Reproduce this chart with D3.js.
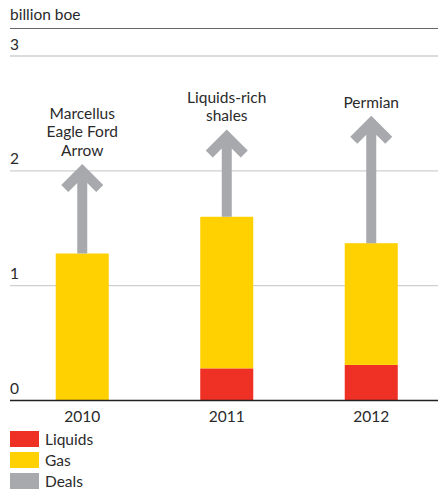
<!DOCTYPE html>
<html>
<head>
<meta charset="utf-8">
<script src="https://cdn.jsdelivr.net/npm/d3@7"></script>
<style>
  html, body { margin: 0; padding: 0; background: #fff; }
  svg { display: block; }
  text { font-family: Lato, "Noto Sans", sans-serif; font-weight: 400; fill: #2a2a2a; }
</style>
</head>
<body>
<svg id="chart" width="438" height="490"></svg>
<script>
const years = ["2010", "2011", "2012"];
const liquids = [0, 0.28, 0.31];
const gas = [1.28, 1.32, 1.06];
const deals = [0.78, 0.76, 1.11];
const dealLabels = [["Marcellus", "Eagle Ford", "Arrow"], ["Liquids-rich", "shales"], ["Permian"]];
const yTicks = [0, 1, 2, 3];
const legendItems = ["Liquids", "Gas", "Deals"];
const unitLabel = "billion boe";

const colors = { Liquids: "#ee3124", Gas: "#ffd100", Deals: "#a7a9ac" };

const svg = d3.select("#chart");
const left = 10, right = 438;

const y = d3.scaleLinear().domain([0, 3]).range([400.5, 56]);
const x = d3.scaleBand().domain(years).range([10, 443.5]).padding(0);
const barW = x.bandwidth() * 0.367;
const cx = d => x(d) + x.bandwidth() / 2;

// unit label and top rule
svg.append("text").attr("x", left).attr("y", 20).attr("font-size", 15.5).text(unitLabel);
svg.append("line").attr("x1", left).attr("x2", right).attr("y1", 28.5).attr("y2", 28.5)
  .attr("stroke", "#666").attr("stroke-width", 1.2);

// grid
const yAxis = d3.axisLeft(y).tickValues(yTicks).tickSize(0).tickFormat(d3.format("d"));
const gGrid = svg.append("g");
yTicks.filter(t => t > 0).forEach(t => {
  gGrid.append("line").attr("x1", left).attr("x2", right)
    .attr("y1", y(t)).attr("y2", y(t)).attr("stroke", "#cfcfcf").attr("stroke-width", 1.4);
});
const gy = svg.append("g").attr("transform", `translate(${left},0)`).call(yAxis);
gy.select(".domain").remove();
gy.selectAll("text").attr("text-anchor", "start").attr("x", 0).attr("dy", "-0.45em")
  .attr("font-size", 15.5).attr("font-family", "Lato, 'Noto Sans', sans-serif").attr("fill", "#2a2a2a");

// stacked bars
const rows = years.map((yr, i) => ({ year: yr, Liquids: liquids[i], Gas: gas[i] }));
const stack = d3.stack().keys(["Liquids", "Gas"]);
const series = stack(rows);
svg.append("g").selectAll("g").data(series).join("g")
  .attr("fill", s => colors[s.key])
  .selectAll("rect").data(s => s).join("rect")
  .attr("x", d => cx(d.data.year) - barW / 2)
  .attr("width", barW)
  .attr("y", d => y(d[1]))
  .attr("height", d => Math.max(0, y(d[0]) - y(d[1])));

// deal arrows
const totals = years.map((yr, i) => liquids[i] + gas[i]);
const gArrows = svg.append("g").attr("fill", colors.Deals);
years.forEach((yr, i) => {
  const c = cx(yr);
  const base = y(totals[i]);
  const tip = y(totals[i] + deals[i]);
  const sw = 5, H = 21, t = 7;
  const pts = [
    [c, tip], [c + H, tip + H], [c + H - t, tip + H + t], [c + sw, tip + H + t - (H - t - sw)],
    [c + sw, base], [c - sw, base], [c - sw, tip + H + t - (H - t - sw)],
    [c - H + t, tip + H + t], [c - H, tip + H]
  ];
  gArrows.append("path").attr("d", d3.line()(pts) + "Z");
  const lines = dealLabels[i];
  const lh = 18.5;
  const lastBaseline = tip - 8;
  lines.forEach((ln, j) => {
    svg.append("text").attr("x", c).attr("y", lastBaseline - (lines.length - 1 - j) * lh)
      .attr("text-anchor", "middle").attr("font-size", 15.5).text(ln);
  });
});

// baseline
svg.append("line").attr("x1", left).attr("x2", right).attr("y1", y(0)).attr("y2", y(0))
  .attr("stroke", "#222").attr("stroke-width", 1.5);

// x axis labels
const xAxis = d3.axisBottom(x).tickSize(0).tickPadding(0);
const gx = svg.append("g").attr("transform", `translate(0,${y(0)})`).call(xAxis);
gx.select(".domain").remove();
gx.selectAll("text").attr("dy", 0).attr("y", 21).attr("font-size", 15.5)
  .attr("font-family", "Lato, 'Noto Sans', sans-serif").attr("fill", "#2a2a2a");

// legend
const lg = svg.append("g");
legendItems.forEach((k, i) => {
  const yy = 431 + i * 21;
  lg.append("rect").attr("x", 10).attr("y", yy).attr("width", 29).attr("height", 16).attr("fill", colors[k]);
  lg.append("text").attr("x", 45).attr("y", yy + 13.5).attr("font-size", 15.5).text(k);
});
</script>
</body>
</html>
